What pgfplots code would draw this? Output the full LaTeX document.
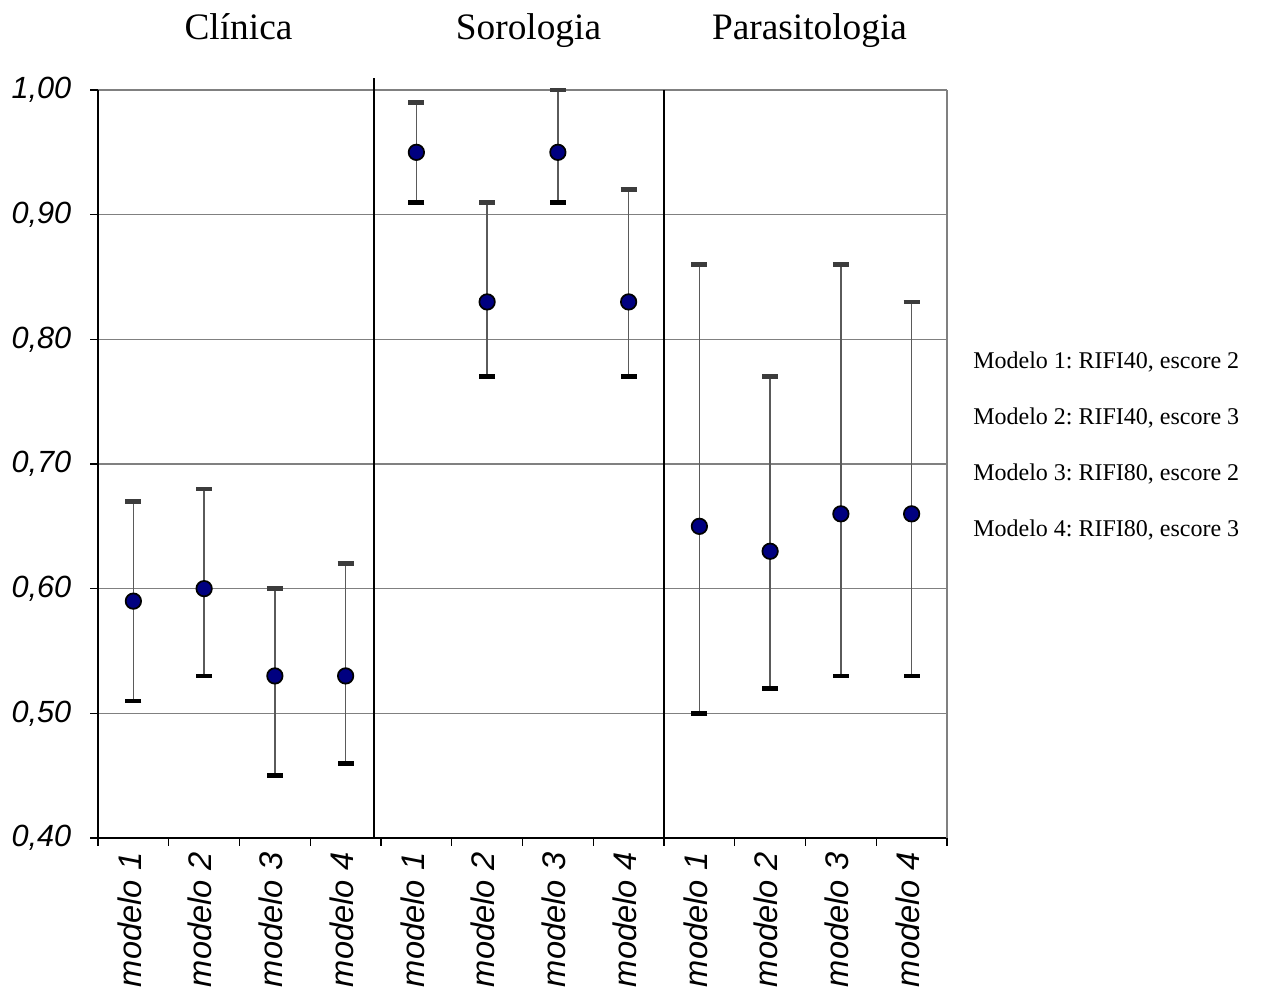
\documentclass[border=0pt]{standalone}
\usepackage{fontspec}
\setmainfont{Liberation Serif}
\setsansfont{Liberation Sans}
\usepackage{pgfplots}
\usepackage{pgfplotstable}
\pgfplotsset{compat=1.18}
\definecolor{navy}{RGB}{0,0,128}
\definecolor{gridgray}{RGB}{128,128,128}
\definecolor{barline}{RGB}{90,90,90}
\definecolor{capup}{RGB}{60,60,60}
\pgfplotstableread{
x y lo hi
0 0.59 0.51 0.67
1 0.60 0.53 0.68
2 0.53 0.45 0.60
3 0.53 0.46 0.62
4 0.95 0.91 0.99
5 0.83 0.77 0.91
6 0.95 0.91 1.00
7 0.83 0.77 0.92
8 0.65 0.50 0.86
9 0.63 0.52 0.77
10 0.66 0.53 0.86
11 0.66 0.53 0.83
}\data
\frenchspacing
\begin{document}
\begin{tikzpicture}[x=0.75pt,y=0.75pt]
\useasboundingbox (0,0) rectangle (1263,994);
\begin{axis}[
  at={(73.5pt,117pt)}, anchor=south west,
  scale only axis, width=636.75pt, height=561pt,
  xmin=-0.5, xmax=11.5, ymin=0.4, ymax=1.0,
  clip=false,
  axis x line*=bottom, axis y line*=left,
  axis line style={-, black, line width=1.3pt},
  x axis line style={-}, y axis line style={-},
  tick align=outside, tick pos=left,
  major tick length=6pt,
  tick style={black, line width=1pt},
  xtick={-0.5,0.5,1.5,2.5,3.5,4.5,5.5,6.5,7.5,8.5,9.5,10.5,11.5},
  xticklabels={},
  extra x ticks={0,1,2,3,4,5,6,7,8,9,10,11},
  extra x tick labels={modelo 1,modelo 2,modelo 3,modelo 4,modelo 1,modelo 2,modelo 3,modelo 4,modelo 1,modelo 2,modelo 3,modelo 4},
  extra x tick style={major tick length=0pt, xticklabel style={rotate=90, anchor=east, xshift=-7.5pt, yshift=3pt, font=\sffamily\itshape\fontsize{24.5}{24.5}\selectfont}},
  ticklabel style={font=\sffamily\itshape\fontsize{23}{23}\selectfont},
  ytick={0.4,0.5,0.6,0.7,0.8,0.9,1.0},
  yticklabel style={xshift=-10.5pt, /pgf/number format/fixed, /pgf/number format/fixed zerofill, /pgf/number format/precision=2, /pgf/number format/use comma, /pgf/number format/assume math mode=true},
  ymajorgrids, grid style={gridgray, line width=1.2pt},
]
\addplot[only marks, mark=none, forget plot,
  error bars/.cd, y dir=plus, y explicit,
  error bar style={draw=barline, line width=1.2pt},
  error mark options={rotate=90, draw=capup, line width=3.5pt, mark size=6pt}]
  table[x=x, y=y, y error plus expr=\thisrow{hi}-\thisrow{y}] {\data};
\addplot[only marks, mark=none, forget plot,
  error bars/.cd, y dir=minus, y explicit,
  error bar style={draw=barline, line width=1.2pt},
  error mark options={rotate=90, draw=black, line width=3.5pt, mark size=6pt}]
  table[x=x, y=y, y error minus expr=\thisrow{y}-\thisrow{lo}] {\data};
\addplot[only marks, mark=*, mark size=5.8pt,
  mark options={fill=navy, draw=black, line width=1.3pt}]
  table[x=x, y=y] {\data};
\draw[black, line width=1.5pt] (axis cs:3.4,0.4) -- (axis cs:3.4,1.0096);
\draw[black, line width=1.5pt] (axis cs:7.5,0.4) -- (axis cs:7.5,1.0);
\draw[gridgray, line width=1.5pt] (axis cs:11.5,0.4) -- (axis cs:11.5,1.0);
\end{axis}
\node[anchor=base, font=\fontsize{28}{28}\selectfont] at (238.5,954) {Clínica};
\node[anchor=base, font=\fontsize{28}{28}\selectfont] at (528.5,954) {Sorologia};
\node[anchor=base, font=\fontsize{28}{28}\selectfont] at (809.5,954) {Parasitologia};
\node[anchor=base west, inner sep=0pt, font=\fontsize{18}{18}\selectfont] at (973,625) {Modelo 1: RIFI40, escore 2};
\node[anchor=base west, inner sep=0pt, font=\fontsize{18}{18}\selectfont] at (973,569) {Modelo 2: RIFI40, escore 3};
\node[anchor=base west, inner sep=0pt, font=\fontsize{18}{18}\selectfont] at (973,513) {Modelo 3: RIFI80, escore 2};
\node[anchor=base west, inner sep=0pt, font=\fontsize{18}{18}\selectfont] at (973,457) {Modelo 4: RIFI80, escore 3};
\end{tikzpicture}
\end{document}
